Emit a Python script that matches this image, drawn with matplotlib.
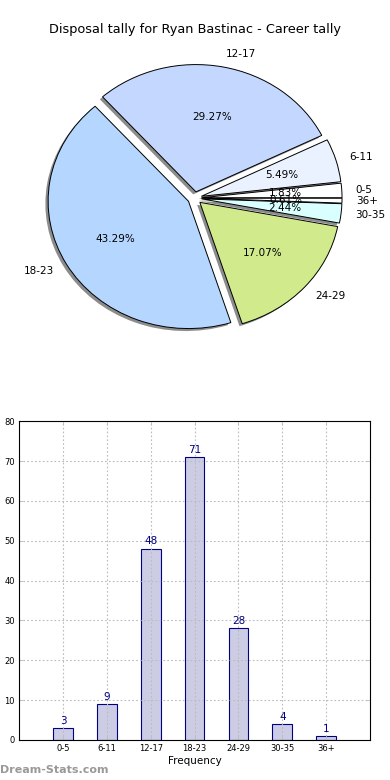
import matplotlib
matplotlib.use("Agg")
import matplotlib.pyplot as plt

categories = ["0-5", "6-11", "12-17", "18-23", "24-29", "30-35", "36+"]
counts = [3, 9, 48, 71, 28, 4, 1]
slice_colors = ["#ffffff", "#eaf1ff", "#c4d8ff", "#b4d6ff", "#d0ea8c", "#d9ffff", "#ffffff"]
title = "Disposal tally for Ryan Bastinac - Career tally"
yticks = [0, 10, 20, 30, 40, 50, 60, 70, 80]

fig = plt.figure(figsize=(3.9, 7.8), dpi=100)

ax1 = fig.add_axes([0.049, 0.542, 0.9, 0.408])
wedges, texts, autotexts = ax1.pie(
    counts, labels=categories, colors=slice_colors, explode=[0.05] * len(counts),
    shadow=dict(ox=-0.014, oy=-0.014, facecolor="#808080", edgecolor="none", alpha=0.9),
    startangle=0, autopct="%1.2f%%",
    wedgeprops=dict(edgecolor="black", linewidth=0.7),
    textprops=dict(fontsize=7.5),
)
ax1.set_aspect("auto")
ax1.set_xlim(-1.25, 1.25)
ax1.set_ylim(-1.25, 1.25)
ax1.set_title(title, fontsize=9.3, pad=4)

ax2 = fig.add_axes([0.049, 0.0513, 0.9, 0.4087])
x = list(range(len(categories)))
ax2.bar(x, counts, width=0.45, color="#ccccE5", edgecolor="#000080", linewidth=0.8, zorder=2)
for xi, v in zip(x, counts):
    ax2.text(xi, v + 0.6, str(v), ha="center", va="bottom", color="#000080", fontsize=7.5, zorder=3)
ax2.set_xlim(-1, 7)
ax2.set_ylim(0, 80)
ax2.set_xticks(x)
ax2.set_xticklabels(categories, fontsize=6)
ax2.set_yticks(yticks)
ax2.tick_params(axis="y", labelsize=6)
ax2.tick_params(direction="in", top=True, right=True, length=3, color="#bbbbbb", width=0.6, pad=3)
ax2.grid(True, linestyle=(0, (1.5, 2)), color="#bbbbbb", linewidth=0.8, zorder=3)
ax2.set_axisbelow(False)
ax2.set_xlabel("Frequency", fontsize=7.5, labelpad=2)
for s in ax2.spines.values():
    s.set_linewidth(0.8)
    s.set_zorder(5)

fig.text(0.0, 0.0065, "Dream-Stats.com", fontsize=8, color="#999999", fontweight="bold", ha="left", va="bottom")

fig.savefig("out.png", dpi=100)
